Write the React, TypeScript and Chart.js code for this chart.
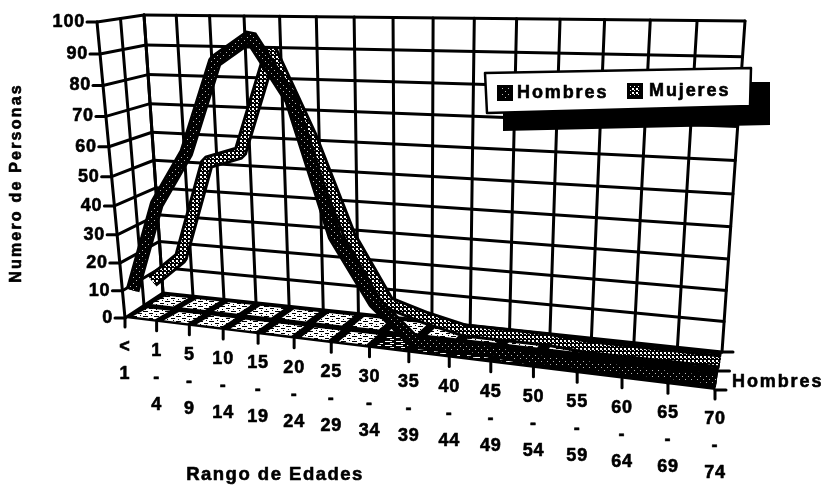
import React, { useEffect, useRef } from "react";
import { Chart, registerables } from "chart.js";

Chart.register(...registerables);

const categories = ["< 1", "1 - 4", "5 - 9", "10 - 14", "15 - 19", "20 - 24", "25 - 29", "30 - 34", "35 - 39", "40 - 44", "45 - 49", "50 - 54", "55 - 59", "60 - 64", "65 - 69", "70 - 74"];
const hombres = [8, 40, 58, 88, 96, 77, 34, 13, 1, 1, 1, 0, 0, 0, 0, 0];
const mujeres = [7, 17, 52, 56, 90, 63, 30, 8, 4, 1, 1, 1, 0, 0, 0, 0];
const yTicks = [0, 10, 20, 30, 40, 50, 60, 70, 80, 90, 100];
const depthTicks = [0, 0.5, 1];
const depthLabel = "Hombres";
const legendNames = ["Hombres", "Mujeres"];
const yTitle = "Numero de Personas";
const xTitle = "Rango de Edades";

type P = { x: number; y: number };
const C = {
  fbl: { x: 125, y: 318 }, fbr: { x: 715, y: 390 }, bbl: { x: 163, y: 293 }, bbr: { x: 722, y: 352 },
  ftl: { x: 97, y: 22 }, ftr: { x: 729, y: 36 }, btl: { x: 144, y: 15 }, btr: { x: 745, y: 21 },
};
const mix = (a: P, b: P, t: number): P => ({ x: a.x + (b.x - a.x) * t, y: a.y + (b.y - a.y) * t });
// t: share along the categories, v: share of the value axis, w: depth (0 front, 1 back)
const project = (t: number, v: number, w: number): P => {
  const u = t - 0.21 * t * (1 - t);
  const h = v - 0.09 * v * (1 - v);
  const bottom = mix(mix(C.fbl, C.fbr, u), mix(C.bbl, C.bbr, u), w);
  const top = mix(mix(C.ftl, C.ftr, u), mix(C.btl, C.btr, u), w);
  return mix(bottom, top, h);
};

const makeTile = (w: number, h: number, draw: (c: CanvasRenderingContext2D) => void) => {
  const cv = document.createElement("canvas");
  cv.width = w; cv.height = h;
  const c = cv.getContext("2d")!;
  draw(c);
  return c.createPattern(cv, "repeat")!;
};
const dots = (bg: string, fg: string, cells: number[][]) => (c: CanvasRenderingContext2D) => {
  c.fillStyle = bg; c.fillRect(0, 0, 100, 100);
  c.fillStyle = fg;
  cells.forEach(([x, y, w = 1, h = 1]) => c.fillRect(x, y, w, h));
};

const FONT = '"Liberation Sans", Arial, sans-serif';
const GRID = 3;
const setFont = (ctx: CanvasRenderingContext2D, size: number, spacing: number) => {
  ctx.font = `bold ${size}px ${FONT}`;
  (ctx as any).letterSpacing = `${spacing}px`;
  ctx.fillStyle = "#000";
  ctx.strokeStyle = "#000";
  ctx.lineWidth = 0.6;
  ctx.lineJoin = "round";
};
const heavyText = (ctx: CanvasRenderingContext2D, s: string, x: number, y: number) => {
  ctx.fillText(s, x, y);
  ctx.strokeText(s, x, y);
};
const line = (ctx: CanvasRenderingContext2D, a: P, b: P, width: number) => {
  ctx.lineWidth = width;
  ctx.beginPath(); ctx.moveTo(a.x, a.y); ctx.lineTo(b.x, b.y); ctx.stroke();
};
const poly = (ctx: CanvasRenderingContext2D, pts: P[]) => {
  ctx.beginPath();
  pts.forEach((p, i) => (i ? ctx.lineTo(p.x, p.y) : ctx.moveTo(p.x, p.y)));
  ctx.closePath();
  ctx.fill();
};

const shares = (chart: any) => {
  const { x, y } = chart.scales;
  const a = chart.chartArea;
  return {
    tx: (i: number) => (x.getPixelForValue(i) - a.left) / a.width,
    vy: (n: number) => (a.bottom - y.getPixelForValue(n)) / a.height,
  };
};

const perspective = {
  id: "perspective",
  afterDatasetsUpdate(chart: any) {
    const a = chart.chartArea;
    chart.data.datasets.forEach((ds: any, i: number) => {
      chart.getDatasetMeta(i).data.forEach((el: any) => {
        const p = project((el.x - a.left) / a.width, (a.bottom - el.y) / a.height, ds.depth);
        el.x = p.x; el.y = p.y;
      });
    });
  },
  beforeDatasetsDraw(chart: any) {
    const ctx: CanvasRenderingContext2D = chart.ctx;
    const { tx, vy } = shares(chart);
    const last = categories.length - 1;
    const floorLight = makeTile(11, 5, dots("#fff", "#000", [[0, 1, 5, 1], [6, 3, 4, 1], [2, 4, 1, 1], [8, 0, 1, 1]]));
    const floorDark = makeTile(11, 4, dots("#000", "#fff", [[0, 1, 7, 1], [5, 3, 4, 1]]));
    ctx.save();
    ctx.strokeStyle = "#000";
    ctx.lineCap = "round";
    // floor
    ctx.fillStyle = "#000";
    poly(ctx, [project(0, 0, 0), project(1, 0, 0), project(1, 0, 1), project(0, 0, 1)]);
    depthTicks.slice(0, -1).forEach((w0, r) => {
      const w1 = depthTicks[r + 1];
      for (let i = 0; i < last; i++) {
        const t0 = tx(i), t1 = tx(i + 1);
        const dark = r === 0 ? i >= 7 : i >= 13;
        ctx.fillStyle = dark ? floorDark : floorLight;
        const insetT = 0.14 * (t1 - t0);
        const dw = (w1 - w0) * 0.16;
        poly(ctx, [
          project(t0 + insetT, 0, w0 + dw), project(t1 - insetT, 0, w0 + dw),
          project(t1 - insetT * 0.4, 0, w1 - dw), project(t0 + insetT * 1.6, 0, w1 - dw),
        ]);
      }
    });
    // value lines on the side wall and the back wall
    yTicks.forEach((n) => {
      const v = vy(n);
      line(ctx, project(0, v, 0), project(0, v, 1), GRID);
      line(ctx, project(0, v, 1), project(1, v, 1), GRID);
    });
    // uprights
    depthTicks.forEach((w) => line(ctx, project(0, 0, w), project(0, 1, w), GRID));
    categories.forEach((_, i) => {
      const t = tx(i);
      line(ctx, project(t, 0, 1), project(t, 1, 1), GRID);
    });
    // axis ticks
    yTicks.forEach((n) => {
      const p = project(0, vy(n), 0);
      line(ctx, p, { x: p.x - 10, y: p.y }, GRID);
    });
    categories.forEach((_, i) => {
      const p = project(tx(i), 0, 0);
      line(ctx, p, { x: p.x, y: p.y + 9 }, GRID);
    });
    depthTicks.forEach((w) => {
      const p = project(1, 0, w);
      line(ctx, p, { x: p.x + 11, y: p.y }, GRID);
    });
    ctx.restore();
  },
  beforeDatasetDraw(chart: any, args: any) {
    const ctx: CanvasRenderingContext2D = chart.ctx;
    const pts = args.meta.data;
    ctx.save();
    ctx.strokeStyle = "#000";
    ctx.lineWidth = 14;
    ctx.lineJoin = "bevel";
    ctx.beginPath();
    pts.forEach((p: any, i: number) => (i ? ctx.lineTo(p.x, p.y) : ctx.moveTo(p.x, p.y)));
    ctx.stroke();
    ctx.restore();
  },
  afterDraw(chart: any) {
    const ctx: CanvasRenderingContext2D = chart.ctx;
    const { tx, vy } = shares(chart);
    ctx.save();
    // value labels
    setFont(ctx, 18, 0.8);
    ctx.textAlign = "right";
    ctx.textBaseline = "middle";
    yTicks.forEach((n) => {
      const p = project(0, vy(n), 0);
      heavyText(ctx, String(n), p.x - 12, p.y);
    });
    // category labels, one word per row
    ctx.textAlign = "center";
    categories.forEach((label, i) => {
      const p = project(tx(i), 0, 0);
      label.split(" ").forEach((word, row) => {
        heavyText(ctx, word, p.x, p.y + 29 + row * 27);
      });
    });
    // depth label
    ctx.textAlign = "left";
    setFont(ctx, 18, 1.9);
    const d = project(1, 0, 0.25);
    heavyText(ctx, depthLabel, 732, d.y + 2);
    // titles
    ctx.textAlign = "center";
    setFont(ctx, 18.5, 1.5);
    heavyText(ctx, xTitle, 275, 475);
    ctx.save();
    ctx.translate(17, 183);
    ctx.rotate(-Math.PI / 2);
    setFont(ctx, 16, 2.2);
    heavyText(ctx, yTitle, 0, 0);
    ctx.restore();
    // legend: shadow, box, swatches, names
    ctx.fillStyle = "#000";
    poly(ctx, [{ x: 503, y: 110 }, { x: 740, y: 82 }, { x: 770, y: 82 }, { x: 770, y: 125 }, { x: 503, y: 131 }]);
    ctx.fillStyle = "#fff";
    ctx.strokeStyle = "#000";
    ctx.lineWidth = 2.5;
    ctx.beginPath();
    ctx.moveTo(485, 73); ctx.lineTo(751, 68); ctx.lineTo(750, 106); ctx.lineTo(487, 113); ctx.closePath();
    ctx.fill(); ctx.stroke();
    const swatches = chart.data.datasets.map((ds: any) => ds.borderColor);
    const sx = [497, 627], sy = [85, 83], tx2 = [517, 649], ty = [93, 91];
    legendNames.forEach((name, i) => {
      ctx.fillStyle = "#000";
      ctx.fillRect(sx[i], sy[i], 16, 16);
      ctx.fillStyle = swatches[i];
      ctx.fillRect(sx[i] + 3, sy[i] + 3, 10, 10);
      setFont(ctx, 18, 1.9);
      ctx.textAlign = "left";
      heavyText(ctx, name, tx2[i], ty[i]);
    });
    ctx.restore();
  },
};

export default function App() {
  const ref = useRef<HTMLCanvasElement>(null);
  useEffect(() => {
    const darkPat = makeTile(6, 6, dots("#000", "#bbb", [[1, 1, 1, 1], [4, 4, 1, 1]]));
    const lightPat = makeTile(4, 4, dots("#000", "#fff", [[0, 0, 2, 2], [2, 2, 1, 1]]));
    const chart = new Chart(ref.current!, {
      type: "line",
      data: {
        labels: categories,
        datasets: [
          { label: legendNames[0], data: hombres, depth: 0.25, borderColor: darkPat, borderWidth: 8, pointRadius: 0, tension: 0, borderJoinStyle: "bevel", fill: false } as any,
          { label: legendNames[1], data: mujeres, depth: 0.75, borderColor: lightPat, borderWidth: 8, pointRadius: 0, tension: 0, borderJoinStyle: "bevel", fill: false } as any,
        ],
      },
      options: {
        responsive: false,
        animation: false,
        layout: { padding: 0 },
        plugins: { legend: { display: false }, tooltip: { enabled: false } },
        scales: {
          x: { type: "category", display: false, offset: false },
          y: { type: "linear", display: false, min: 0, max: 100 },
        },
      },
      plugins: [perspective],
    });
    return () => chart.destroy();
  }, []);
  return (
    <div style={{ position: "absolute", left: 0, top: 0, width: 827, height: 487, background: "#fff" }}>
      <canvas ref={ref} width={827} height={487} style={{ display: "block" }} />
    </div>
  );
}
